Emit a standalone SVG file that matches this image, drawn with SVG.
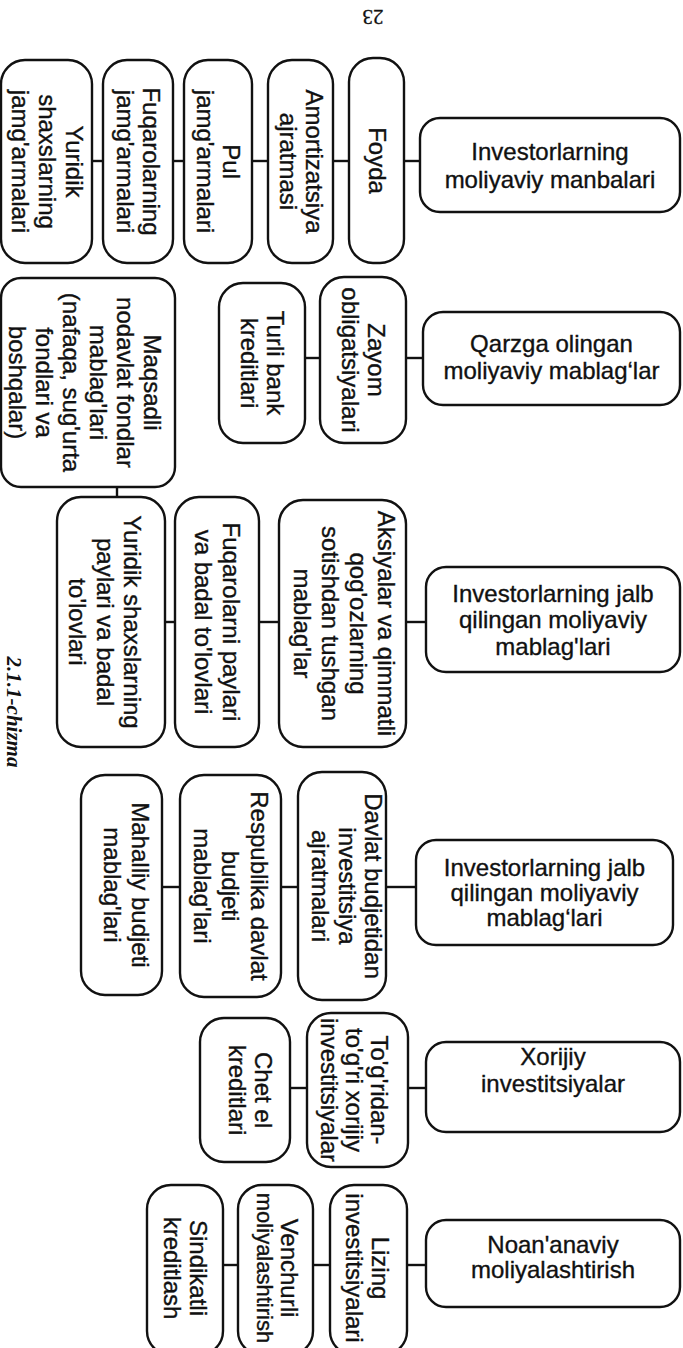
<svg xmlns="http://www.w3.org/2000/svg" width="683" height="1348" viewBox="0 0 683 1348">
  <style>
    .box { fill: #fff; stroke: #111; stroke-width: 2.4; }
    .t { font-family: "Liberation Sans", Arial, sans-serif; font-size: 24px; fill: #111; stroke: #111; stroke-width: 0.35; text-anchor: middle; }
    .narrow { font-size: 22px; }
    .conn line { stroke: #111; stroke-width: 2.4; }
    .pg { font-family: "Liberation Serif", "Times New Roman", serif; font-size: 21px; fill: #111; stroke: #111; stroke-width: 0.3; text-anchor: middle; }
    .cap { font-family: "Liberation Serif", "Times New Roman", serif; font-size: 21px; font-style: italic; font-weight: bold; fill: #111; text-anchor: middle; }
  </style>
  <rect width="683" height="1348" fill="#fff"/>

  <!-- page number, printed upside down -->
  <text class="pg" x="373" y="24.5" transform="rotate(180 373 17)">23</text>

  <!-- figure caption -->
  <text class="cap" x="14" y="719" transform="rotate(90 14 712)">2.1.1-chizma</text>

  <!-- connectors -->
  <g id="connectors" class="conn">
    <line x1="92" y1="161" x2="103" y2="161"/>
    <line x1="173" y1="161" x2="184" y2="161"/>
    <line x1="252" y1="161" x2="268" y2="161"/>
    <line x1="333" y1="161" x2="349" y2="161"/>
    <line x1="404" y1="161" x2="420" y2="161"/>

    <line x1="305" y1="358" x2="320" y2="358"/>
    <line x1="406" y1="358" x2="423" y2="358"/>
    <line x1="117" y1="487" x2="117" y2="497"/>

    <line x1="165" y1="622" x2="175" y2="622"/>
    <line x1="259" y1="622" x2="279" y2="622"/>
    <line x1="406" y1="622" x2="426" y2="622"/>

    <line x1="162" y1="887" x2="180" y2="887"/>
    <line x1="281" y1="887" x2="298" y2="887"/>
    <line x1="386" y1="887" x2="416" y2="887"/>

    <line x1="290" y1="1088" x2="307" y2="1088"/>
    <line x1="408" y1="1088" x2="426" y2="1088"/>

    <line x1="223" y1="1265" x2="238" y2="1265"/>
    <line x1="313" y1="1265" x2="330" y2="1265"/>
    <line x1="407" y1="1265" x2="426" y2="1265"/>
  </g>

  <!-- group 1: own financial sources -->
  <g id="n-manbalari">
    <rect class="box" x="420" y="118" width="260" height="94" rx="20"/>
    <text class="t"><tspan x="550" y="160">Investorlarning</tspan><tspan x="550" y="188">moliyaviy manbalari</tspan></text>
  </g>
  <g id="n-foyda">
    <rect class="box" x="349" y="58" width="55" height="205" rx="24"/>
    <text class="t" transform="rotate(90 376.5 160.5)"><tspan x="376.5" y="168.5">Foyda</tspan></text>
  </g>
  <g id="n-amortizatsiya">
    <rect class="box" x="268" y="60" width="65" height="203" rx="24"/>
    <text class="t" transform="rotate(90 300.5 161.5)"><tspan x="300.5" y="156.5">Amortizatsiya</tspan><tspan x="300.5" y="182.5">ajratmasi</tspan></text>
  </g>
  <g id="n-pul">
    <rect class="box" x="184" y="60" width="68" height="203" rx="24"/>
    <text class="t" transform="rotate(90 218 161.5)"><tspan x="218" y="156.5">Pul</tspan><tspan x="218" y="182.5">jamg'armalari</tspan></text>
  </g>
  <g id="n-fuqarolar-jamgarma">
    <rect class="box" x="103" y="60" width="70" height="203" rx="24"/>
    <text class="t" transform="rotate(90 138 161.5)"><tspan x="138" y="156.5">Fuqarolarning</tspan><tspan x="138" y="182.5">jamg'armalari</tspan></text>
  </g>
  <g id="n-yuridik-jamgarma">
    <rect class="box" x="1" y="60" width="91" height="203" rx="24"/>
    <text class="t" transform="rotate(90 46.5 161.5)"><tspan x="46.5" y="142.5">Yuridik</tspan><tspan x="46.5" y="169.5">shaxslarning</tspan><tspan x="46.5" y="196.5">jamg'armalari</tspan></text>
  </g>

  <!-- group 2: borrowed funds -->
  <g id="n-qarz">
    <rect class="box" x="423" y="312" width="257" height="93" rx="20"/>
    <text class="t"><tspan x="551.5" y="352">Qarzga olingan</tspan><tspan x="551.5" y="379">moliyaviy mablag‘lar</tspan></text>
  </g>
  <g id="n-zayom">
    <rect class="box" x="320" y="277" width="86" height="166" rx="24"/>
    <text class="t" transform="rotate(90 363 360)"><tspan x="363" y="355.5">Zayom</tspan><tspan x="363" y="381.5">obligatsiyalari</tspan></text>
  </g>
  <g id="n-bank">
    <rect class="box" x="219" y="283" width="86" height="160" rx="24"/>
    <text class="t" transform="rotate(90 262 363)"><tspan x="262" y="358">Turli bank</tspan><tspan x="262" y="384">kreditlari</tspan></text>
  </g>
  <g id="n-maqsadli">
    <rect class="box" x="1" y="278" width="174" height="209" rx="20"/>
    <text class="t" transform="rotate(90 88 382.5)"><tspan x="88" y="326.3">Maqsadli</tspan><tspan x="88" y="353.3">nodavlat fondlar</tspan><tspan x="88" y="380.3">mablag'lari</tspan><tspan x="88" y="407.3">(nafaqa, sug'urta</tspan><tspan x="88" y="434.3">fondlari va</tspan><tspan x="88" y="461.3">boshqalar)</tspan></text>
  </g>

  <!-- group 3: attracted funds -->
  <g id="n-jalb-1">
    <rect class="box" x="426" y="567" width="254" height="105" rx="20"/>
    <text class="t"><tspan x="553" y="602">Investorlarning jalb</tspan><tspan x="553" y="628">qilingan moliyaviy</tspan><tspan x="553" y="655">mablag'lari</tspan></text>
  </g>
  <g id="n-aksiyalar">
    <rect class="box" x="279" y="500" width="127" height="247" rx="24"/>
    <text class="t" transform="rotate(90 342.5 623.5)"><tspan x="342.5" y="588">Aksiyalar va qimmatli</tspan><tspan x="342.5" y="616">qog'ozlarning</tspan><tspan x="342.5" y="644">sotishdan tushgan</tspan><tspan x="342.5" y="672">mablag'lar</tspan></text>
  </g>
  <g id="n-fuqarolar-pay">
    <rect class="box" x="175" y="497" width="84" height="250" rx="24"/>
    <text class="t" transform="rotate(90 217 622)"><tspan x="217" y="616">Fuqarolarni paylari</tspan><tspan x="217" y="644">va badal to'lovlari</tspan></text>
  </g>
  <g id="n-yuridik-pay">
    <rect class="box" x="57" y="497" width="108" height="250" rx="24"/>
    <text class="t" transform="rotate(90 111 622)"><tspan x="111" y="609">Yuridik shaxslarning</tspan><tspan x="111" y="636.5">paylari va badal</tspan><tspan x="111" y="664">to'lovlari</tspan></text>
  </g>

  <!-- group 4: budget funds -->
  <g id="n-jalb-2">
    <rect class="box" x="416" y="840" width="257" height="105" rx="20"/>
    <text class="t"><tspan x="544.5" y="876">Investorlarning jalb</tspan><tspan x="544.5" y="901">qilingan moliyaviy</tspan><tspan x="544.5" y="926">mablag‘lari</tspan></text>
  </g>
  <g id="n-davlat">
    <rect class="box" x="298" y="772" width="88" height="228" rx="24"/>
    <text class="t" transform="rotate(90 342 886)"><tspan x="342" y="863">Davlat budjetidan</tspan><tspan x="342" y="889">investitsiya</tspan><tspan x="342" y="916">ajratmalari</tspan></text>
  </g>
  <g id="n-respublika">
    <rect class="box" x="180" y="775" width="101" height="222" rx="24"/>
    <text class="t" transform="rotate(90 230.5 886)"><tspan x="230.5" y="865.5">Respublika davlat</tspan><tspan x="230.5" y="894.5">budjeti</tspan><tspan x="230.5" y="922.5">mablag'lari</tspan></text>
  </g>
  <g id="n-mahalliy">
    <rect class="box" x="81" y="775" width="81" height="220" rx="24"/>
    <text class="t" transform="rotate(90 121.5 885)"><tspan x="121.5" y="874.5">Mahalliy  budjeti</tspan><tspan x="121.5" y="902.5">mablag'lari</tspan></text>
  </g>

  <!-- group 5: foreign investment -->
  <g id="n-xorijiy">
    <rect class="box" x="426" y="1042" width="254" height="90" rx="20"/>
    <text class="t"><tspan x="553" y="1065">Xorijiy</tspan><tspan x="553" y="1092">investitsiyalar</tspan></text>
  </g>
  <g id="n-togridan">
    <rect class="box" x="307" y="1013" width="101" height="154" rx="24"/>
    <text class="t" transform="rotate(90 357.5 1090)"><tspan x="357.5" y="1076.5">To'g'ridan-</tspan><tspan x="357.5" y="1101.5">to'g'ri xorijiy</tspan><tspan x="357.5" y="1126.5">investitsiyalar</tspan></text>
  </g>
  <g id="n-chet">
    <rect class="box" x="200" y="1018" width="90" height="144" rx="24"/>
    <text class="t" transform="rotate(90 245 1090)"><tspan x="245" y="1080">Chet el</tspan><tspan x="245" y="1106">kreditlari</tspan></text>
  </g>

  <!-- group 6: non-traditional financing -->
  <g id="n-noananaviy">
    <rect class="box" x="426" y="1220" width="254" height="87" rx="20"/>
    <text class="t"><tspan x="553" y="1253">Noan'anaviy</tspan><tspan x="553" y="1278">moliyalashtirish</tspan></text>
  </g>
  <g id="n-lizing">
    <rect class="box" x="330" y="1185" width="77" height="170" rx="24"/>
    <text class="t" transform="rotate(90 368.5 1268)"><tspan x="368.5" y="1264.5">Lizing</tspan><tspan x="368.5" y="1290.5">investitsiyalari</tspan></text>
  </g>
  <g id="n-venchurli">
    <rect class="box" x="238" y="1185" width="75" height="170" rx="24"/>
    <text class="t" transform="rotate(90 275.5 1268)"><tspan x="275.5" y="1262.5">Venchurli</tspan><tspan class="narrow" x="275.5" y="1286.5">moliyalashtirish</tspan></text>
  </g>
  <g id="n-sindikatli">
    <rect class="box" x="147" y="1185" width="76" height="170" rx="24"/>
    <text class="t" transform="rotate(90 185 1268)"><tspan x="185" y="1263">Sindikatli</tspan><tspan x="185" y="1289">kreditlash</tspan></text>
  </g>
</svg>
